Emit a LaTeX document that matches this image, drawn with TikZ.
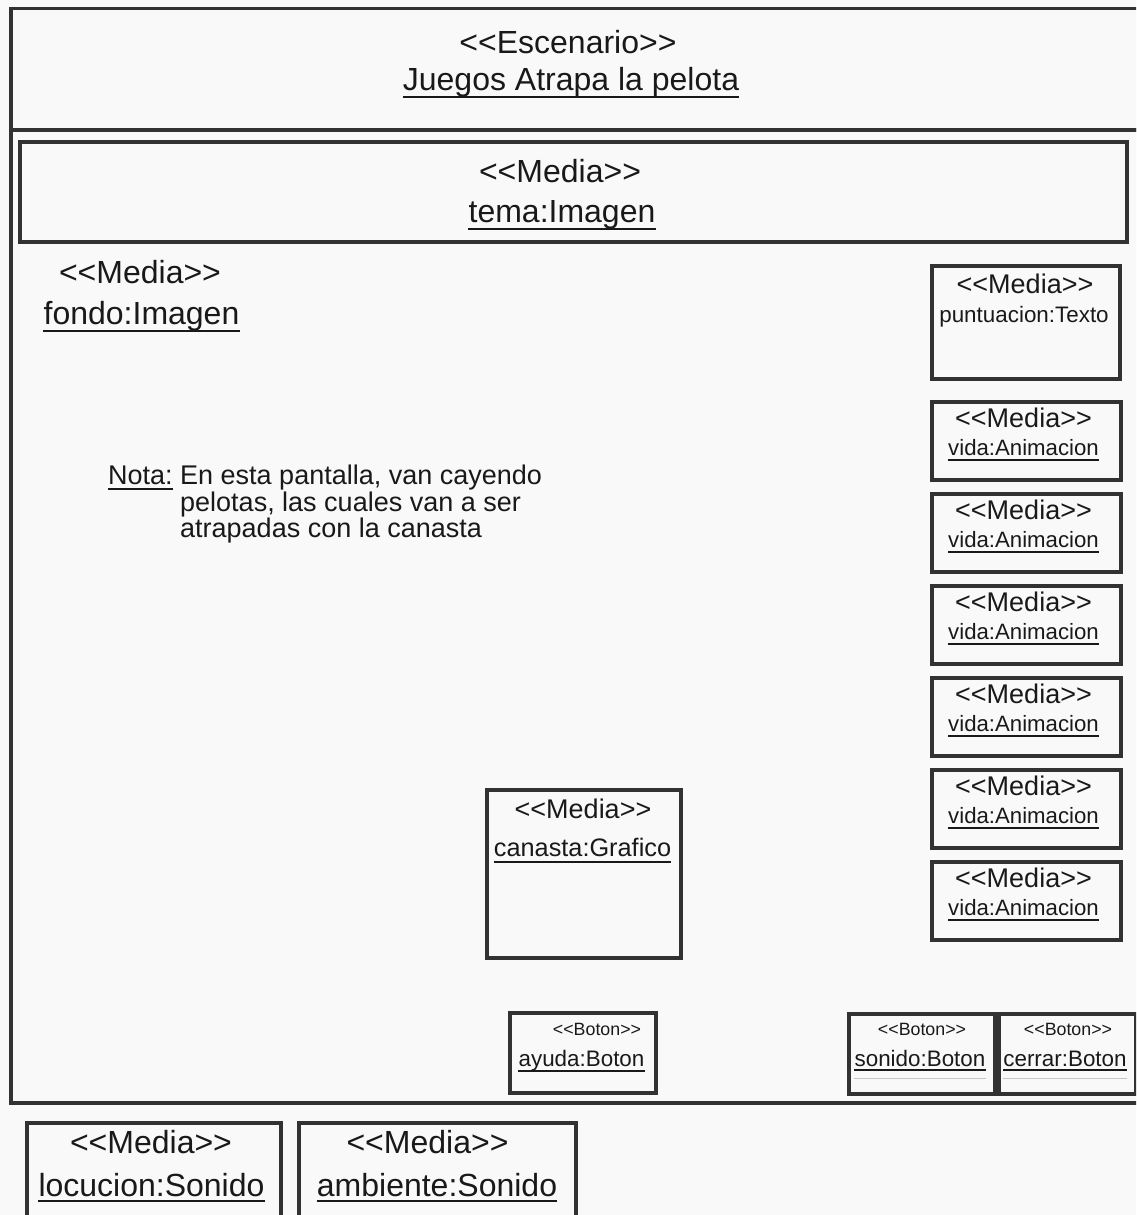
\documentclass[tikz,border=0pt]{standalone}
\usepackage{fontspec}
\setmainfont{Liberation Sans}[Ligatures=TeXOff]
\definecolor{bg}{RGB}{249,249,249}
\definecolor{linec}{RGB}{50,50,50}
\definecolor{txt}{RGB}{25,25,25}
\newcommand{\fs}[1]{\fontsize{#1}{#1}\selectfont}
\tikzset{
  frame/.style={draw=linec, line width=3.5pt, fill=bg, inner sep=0pt, anchor=north west},
  umlbox/.style={draw=linec, line width=3.5pt, fill=bg, inner sep=0pt, anchor=north west},
  lbl/.style={anchor=base, inner sep=0pt, text=txt},
  big/.style={lbl, font=\fs{32}},
  mid/.style={lbl, font=\fs{27}},
  small/.style={lbl, font=\fs{22.4}},
  tiny/.style={lbl, font=\fs{17.8}},
  uline/.style={draw=txt, line width=1.8pt},
  faint/.style={draw=gray!45, line width=1pt},
}
\newcommand{\uln}[2]{\draw[uline] ([yshift=-#2pt]#1.base west) -- ([yshift=-#2pt]#1.base east);}
\begin{document}
\begin{tikzpicture}[x=1pt, y=-1pt]
\fill[bg] (0,0) rectangle (1136,1215);
\useasboundingbox (0,0) rectangle (1136,1215);
\clip (0,0) rectangle (1136,1215);

% scenario frame: header and body
\node[frame, minimum width=1150pt, minimum height=121pt] (hdr) at (9,7) {};
\node[frame, minimum width=1150pt, minimum height=973pt] (body) at (9,128) {};
\node[big] (esc) at (568,54) {<<Escenario>>};
\node[big] (escname) at (571,90) {Juegos Atrapa la pelota};
\uln{escname}{7}

% theme image
\node[umlbox, minimum width=1107pt, minimum height=100pt] (tema) at (18,140) {};
\node[big] (temast) at (560,182) {<<Media>>};
\node[big] (temaname) at (562,222) {tema:Imagen};
\uln{temaname}{7}

% background image (no box)
\node[big] (fondost) at (140,283) {<<Media>>};
\node[big] (fondoname) at (141.5,324) {fondo:Imagen};
\uln{fondoname}{7}

% score
\node[umlbox, minimum width=188pt, minimum height=113pt] (punt) at (930,264) {};
\node[mid] (puntst) at (1025,293) {<<Media>>};
\node[small] (puntname) at (1024,322) {puntuacion:Texto};

% lives
\foreach \t [count=\i] in {400,492,584,676,768,860}{
  \node[umlbox, minimum width=189pt, minimum height=78pt] (vida\i) at (930,\t) {};
  \node[mid] (vidast\i) at (1023.5,\t+27) {<<Media>>};
  \node[small, font=\fs{22.2}] (vidaname\i) at (1023.5,\t+55) {vida:Animacion};
  \uln{vidaname\i}{5}
}

% basket
\node[umlbox, minimum width=194pt, minimum height=168pt] (canasta) at (485,788) {};
\node[mid] (canastast) at (583,818) {<<Media>>};
\node[lbl, font=\fs{25.3}] (canastaname) at (582.5,856) {canasta:Grafico};
\uln{canastaname}{6}

% buttons
\node[umlbox, minimum width=146pt, minimum height=80pt] (ayuda) at (508,1011) {};
\node[tiny] (ayudast) at (597,1035) {<<Boton>>};
\node[small] (ayudaname) at (581.5,1066) {ayuda:Boton};
\uln{ayudaname}{5}

\node[umlbox, minimum width=146pt, minimum height=80pt] (sonido) at (847,1012) {};
\node[tiny] (sonidost) at (922,1035) {<<Boton>>};
\node[small] (sonidoname) at (920,1066) {sonido:Boton};
\uln{sonidoname}{4}
\draw[faint] ([yshift=-12pt]sonidoname.base west) -- ([yshift=-12pt]sonidoname.base east);

\node[umlbox, minimum width=137pt, minimum height=80pt] (cerrar) at (997,1012) {};
\node[tiny] (cerrarst) at (1068,1035) {<<Boton>>};
\node[small] (cerrarname) at (1065,1066) {cerrar:Boton};
\uln{cerrarname}{4}
\draw[faint] ([yshift=-12pt]cerrarname.base west) -- ([yshift=-12pt]cerrarname.base east);

% note
\node[lbl, font=\fs{27}, anchor=base west] (notalbl) at (108,484) {Nota:};
\uln{notalbl}{5}
\node[lbl, font=\fs{27}, anchor=base west] (nota1) at (180,484) {En esta pantalla, van cayendo};
\node[lbl, font=\fs{27}, anchor=base west] (nota2) at (180,511) {pelotas, las cuales van a ser};
\node[lbl, font=\fs{27}, anchor=base west] (nota3) at (180,537) {atrapadas con la canasta};

% sounds outside the scenario
\node[umlbox, minimum width=254pt, minimum height=120pt] (locucion) at (25,1121) {};
\node[big] (locucionst) at (151,1153) {<<Media>>};
\node[big] (locucionname) at (151.5,1196) {locucion:Sonido};
\uln{locucionname}{5}

\node[umlbox, minimum width=277pt, minimum height=120pt] (ambiente) at (297,1121) {};
\node[big] (ambientest) at (427.5,1153) {<<Media>>};
\node[big] (ambientename) at (437,1196) {ambiente:Sonido};
\uln{ambientename}{5}
\end{tikzpicture}
\end{document}
